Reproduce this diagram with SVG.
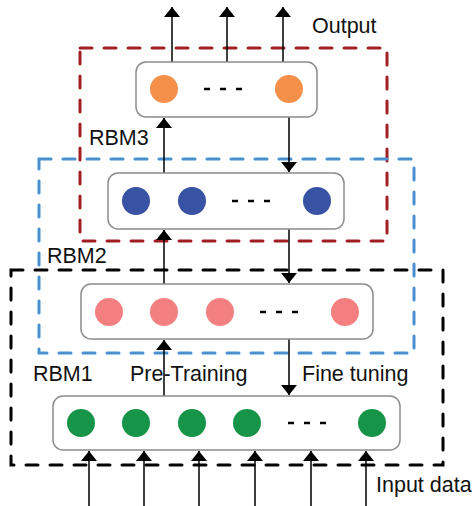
<svg xmlns="http://www.w3.org/2000/svg" width="474" height="506" viewBox="0 0 474 506">
<style>
.layer{fill:#fff;stroke:#8c8c8c;stroke-width:1.5}
.dash{fill:none;stroke-width:3;stroke-dasharray:12 12;stroke-linecap:round}
.c{stroke:#000;stroke-width:1.5;fill:none}
.dots{stroke:#000;stroke-width:2.5;stroke-dasharray:6 10;fill:none}
text{font-family:"Liberation Sans",Arial,sans-serif;font-size:21.5px;fill:#111}
.o{fill:#F5904A}.b{fill:#3953A4}.p{fill:#F37F81}.g{fill:#169447}
</style>
<defs>
<marker id="ah" viewBox="0 0 10 16" refX="10" refY="8" markerWidth="10" markerHeight="16" markerUnits="userSpaceOnUse" orient="auto">
<path d="M0,0 L10,8 L0,16 Z" fill="#000"/>
</marker>
</defs>
<g id="rbm3-box"><rect class="dash" x="80" y="48" width="307" height="193" stroke="#A11E22"/><text x="89" y="145">RBM3</text></g>
<g id="rbm2-box"><rect class="dash" x="39" y="159" width="375" height="194" stroke="#4A90D0"/><text x="47" y="263">RBM2</text></g>
<g id="rbm1-box"><rect class="dash" x="11" y="270" width="432" height="195" stroke="#000"/><text x="33" y="381">RBM1</text></g>
<g id="connectors">
<line class="c" x1="172" y1="62" x2="172" y2="7" marker-end="url(#ah)"/>
<line class="c" x1="227" y1="62" x2="227" y2="7" marker-end="url(#ah)"/>
<line class="c" x1="283" y1="62" x2="283" y2="7" marker-end="url(#ah)"/>
<line class="c" x1="164" y1="173" x2="164" y2="118" marker-end="url(#ah)"/>
<line class="c" x1="289" y1="117" x2="289" y2="172" marker-end="url(#ah)"/>
<line class="c" x1="164" y1="284" x2="164" y2="230" marker-end="url(#ah)"/>
<line class="c" x1="289" y1="229" x2="289" y2="283" marker-end="url(#ah)"/>
<line class="c" x1="164" y1="396" x2="164" y2="340" marker-end="url(#ah)"/>
<line class="c" x1="289" y1="339" x2="289" y2="395" marker-end="url(#ah)"/>
<line class="c" x1="89" y1="506" x2="89" y2="451" marker-end="url(#ah)"/>
<line class="c" x1="144" y1="506" x2="144" y2="451" marker-end="url(#ah)"/>
<line class="c" x1="199" y1="506" x2="199" y2="451" marker-end="url(#ah)"/>
<line class="c" x1="255" y1="506" x2="255" y2="451" marker-end="url(#ah)"/>
<line class="c" x1="311" y1="506" x2="311" y2="451" marker-end="url(#ah)"/>
<line class="c" x1="366" y1="506" x2="366" y2="451" marker-end="url(#ah)"/>
</g>
<g id="output-layer">
<rect class="layer" x="136" y="62" width="181" height="55" rx="10"/>
<circle class="o" cx="164" cy="89" r="14"/><circle class="o" cx="289" cy="89" r="14"/>
<line class="dots" x1="204" y1="89" x2="242" y2="89"/>
</g>
<g id="hidden2-layer">
<rect class="layer" x="108" y="173" width="236" height="56" rx="10"/>
<circle class="b" cx="136" cy="201" r="14"/><circle class="b" cx="192" cy="201" r="14"/><circle class="b" cx="317" cy="201" r="14"/>
<line class="dots" x1="232" y1="201" x2="270" y2="201"/>
</g>
<g id="hidden1-layer">
<rect class="layer" x="81" y="284" width="292" height="55" rx="10"/>
<circle class="p" cx="109" cy="312" r="14"/><circle class="p" cx="164" cy="312" r="14"/><circle class="p" cx="220" cy="312" r="14"/><circle class="p" cx="345" cy="312" r="14"/>
<line class="dots" x1="260" y1="312" x2="298" y2="312"/>
</g>
<g id="input-layer">
<rect class="layer" x="53" y="396" width="347" height="54" rx="10"/>
<circle class="g" cx="81" cy="423" r="14"/><circle class="g" cx="136" cy="423" r="14"/><circle class="g" cx="192" cy="423" r="14"/><circle class="g" cx="247" cy="423" r="14"/><circle class="g" cx="372" cy="423" r="14"/>
<line class="dots" x1="288" y1="423" x2="326" y2="423"/>
</g>
<g id="labels">
<text x="312" y="33">Output</text>
<text x="130" y="381">Pre-Training</text>
<text x="302" y="381">Fine tuning</text>
<text x="376" y="492">Input data</text>
</g>
</svg>
